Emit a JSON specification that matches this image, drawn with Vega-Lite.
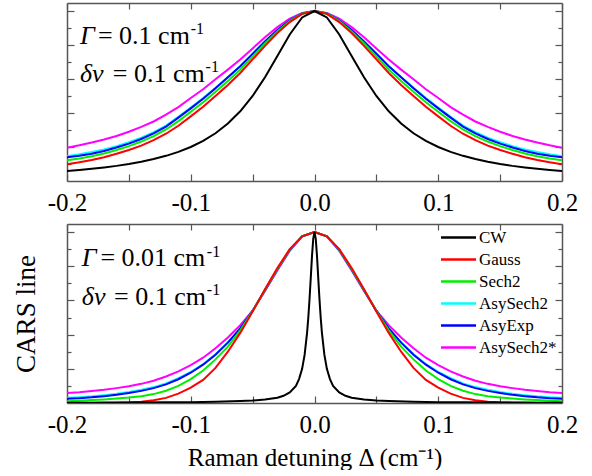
{
"$schema": "https://vega.github.io/schema/vega-lite/v6.json",
"background": "white",
"padding": {"left": 12, "top": 2, "right": 0, "bottom": 0},
"config": {"font": "'Liberation Serif', 'Times New Roman', serif", "view": {"stroke": null},
  "axis": {"domainColor": "#555", "domainWidth": 1.5, "tickColor": "#555", "tickWidth": 1.2, "grid": false, "labelColor": "black", "titleColor": "black", "labelFont": "'Liberation Serif', 'Times New Roman', serif", "titleFont": "'Liberation Serif', 'Times New Roman', serif", "titleFontWeight": "normal"},
  "legend": {"labelFont": "'Liberation Serif', 'Times New Roman', serif"},
  "text": {"font": "'Liberation Serif', 'Times New Roman', serif", "color": "black"}},
"datasets": {
"top": [
{"series":"AsySech2*","x":-0.2,"y":0.196},{"series":"AsySech2*","x":-0.19,"y":0.21},{"series":"AsySech2*","x":-0.18,"y":0.226},{"series":"AsySech2*","x":-0.17,"y":0.244},{"series":"AsySech2*","x":-0.16,"y":0.265},{"series":"AsySech2*","x":-0.15,"y":0.29},{"series":"AsySech2*","x":-0.14,"y":0.318},{"series":"AsySech2*","x":-0.13,"y":0.35},{"series":"AsySech2*","x":-0.12,"y":0.39},{"series":"AsySech2*","x":-0.11,"y":0.435},{"series":"AsySech2*","x":-0.1,"y":0.488},{"series":"AsySech2*","x":-0.09,"y":0.54},{"series":"AsySech2*","x":-0.08,"y":0.598},{"series":"AsySech2*","x":-0.07,"y":0.655},{"series":"AsySech2*","x":-0.06,"y":0.715},{"series":"AsySech2*","x":-0.05,"y":0.78},{"series":"AsySech2*","x":-0.04,"y":0.845},{"series":"AsySech2*","x":-0.03,"y":0.905},{"series":"AsySech2*","x":-0.02,"y":0.955},{"series":"AsySech2*","x":-0.01,"y":0.988},{"series":"AsySech2*","x":0,"y":1},{"series":"AsySech2*","x":0.01,"y":0.988},{"series":"AsySech2*","x":0.02,"y":0.955},{"series":"AsySech2*","x":0.03,"y":0.905},{"series":"AsySech2*","x":0.04,"y":0.845},{"series":"AsySech2*","x":0.05,"y":0.78},{"series":"AsySech2*","x":0.06,"y":0.715},{"series":"AsySech2*","x":0.07,"y":0.655},{"series":"AsySech2*","x":0.08,"y":0.598},{"series":"AsySech2*","x":0.09,"y":0.54},{"series":"AsySech2*","x":0.1,"y":0.488},{"series":"AsySech2*","x":0.11,"y":0.435},{"series":"AsySech2*","x":0.12,"y":0.39},{"series":"AsySech2*","x":0.13,"y":0.35},{"series":"AsySech2*","x":0.14,"y":0.318},{"series":"AsySech2*","x":0.15,"y":0.29},{"series":"AsySech2*","x":0.16,"y":0.265},{"series":"AsySech2*","x":0.17,"y":0.244},{"series":"AsySech2*","x":0.18,"y":0.226},{"series":"AsySech2*","x":0.19,"y":0.21},{"series":"AsySech2*","x":0.2,"y":0.196},
{"series":"AsySech2","x":-0.2,"y":0.146},{"series":"AsySech2","x":-0.19,"y":0.157},{"series":"AsySech2","x":-0.18,"y":0.17},{"series":"AsySech2","x":-0.17,"y":0.186},{"series":"AsySech2","x":-0.16,"y":0.205},{"series":"AsySech2","x":-0.15,"y":0.228},{"series":"AsySech2","x":-0.14,"y":0.255},{"series":"AsySech2","x":-0.13,"y":0.287},{"series":"AsySech2","x":-0.12,"y":0.326},{"series":"AsySech2","x":-0.11,"y":0.378},{"series":"AsySech2","x":-0.1,"y":0.432},{"series":"AsySech2","x":-0.09,"y":0.488},{"series":"AsySech2","x":-0.08,"y":0.548},{"series":"AsySech2","x":-0.07,"y":0.61},{"series":"AsySech2","x":-0.06,"y":0.675},{"series":"AsySech2","x":-0.05,"y":0.748},{"series":"AsySech2","x":-0.04,"y":0.82},{"series":"AsySech2","x":-0.03,"y":0.888},{"series":"AsySech2","x":-0.02,"y":0.945},{"series":"AsySech2","x":-0.01,"y":0.985},{"series":"AsySech2","x":0,"y":1},{"series":"AsySech2","x":0.01,"y":0.985},{"series":"AsySech2","x":0.02,"y":0.945},{"series":"AsySech2","x":0.03,"y":0.888},{"series":"AsySech2","x":0.04,"y":0.82},{"series":"AsySech2","x":0.05,"y":0.748},{"series":"AsySech2","x":0.06,"y":0.675},{"series":"AsySech2","x":0.07,"y":0.61},{"series":"AsySech2","x":0.08,"y":0.548},{"series":"AsySech2","x":0.09,"y":0.488},{"series":"AsySech2","x":0.1,"y":0.432},{"series":"AsySech2","x":0.11,"y":0.378},{"series":"AsySech2","x":0.12,"y":0.326},{"series":"AsySech2","x":0.13,"y":0.287},{"series":"AsySech2","x":0.14,"y":0.255},{"series":"AsySech2","x":0.15,"y":0.228},{"series":"AsySech2","x":0.16,"y":0.205},{"series":"AsySech2","x":0.17,"y":0.186},{"series":"AsySech2","x":0.18,"y":0.17},{"series":"AsySech2","x":0.19,"y":0.157},{"series":"AsySech2","x":0.2,"y":0.146},
{"series":"AsyExp","x":-0.2,"y":0.14},{"series":"AsyExp","x":-0.19,"y":0.148},{"series":"AsyExp","x":-0.18,"y":0.16},{"series":"AsyExp","x":-0.17,"y":0.177},{"series":"AsyExp","x":-0.16,"y":0.197},{"series":"AsyExp","x":-0.15,"y":0.22},{"series":"AsyExp","x":-0.14,"y":0.247},{"series":"AsyExp","x":-0.13,"y":0.28},{"series":"AsyExp","x":-0.12,"y":0.32},{"series":"AsyExp","x":-0.11,"y":0.373},{"series":"AsyExp","x":-0.1,"y":0.427},{"series":"AsyExp","x":-0.09,"y":0.484},{"series":"AsyExp","x":-0.08,"y":0.545},{"series":"AsyExp","x":-0.07,"y":0.61},{"series":"AsyExp","x":-0.06,"y":0.675},{"series":"AsyExp","x":-0.05,"y":0.748},{"series":"AsyExp","x":-0.04,"y":0.82},{"series":"AsyExp","x":-0.03,"y":0.888},{"series":"AsyExp","x":-0.02,"y":0.945},{"series":"AsyExp","x":-0.01,"y":0.985},{"series":"AsyExp","x":0,"y":1},{"series":"AsyExp","x":0.01,"y":0.985},{"series":"AsyExp","x":0.02,"y":0.945},{"series":"AsyExp","x":0.03,"y":0.888},{"series":"AsyExp","x":0.04,"y":0.82},{"series":"AsyExp","x":0.05,"y":0.748},{"series":"AsyExp","x":0.06,"y":0.675},{"series":"AsyExp","x":0.07,"y":0.61},{"series":"AsyExp","x":0.08,"y":0.545},{"series":"AsyExp","x":0.09,"y":0.484},{"series":"AsyExp","x":0.1,"y":0.427},{"series":"AsyExp","x":0.11,"y":0.373},{"series":"AsyExp","x":0.12,"y":0.32},{"series":"AsyExp","x":0.13,"y":0.28},{"series":"AsyExp","x":0.14,"y":0.247},{"series":"AsyExp","x":0.15,"y":0.22},{"series":"AsyExp","x":0.16,"y":0.197},{"series":"AsyExp","x":0.17,"y":0.177},{"series":"AsyExp","x":0.18,"y":0.16},{"series":"AsyExp","x":0.19,"y":0.148},{"series":"AsyExp","x":0.2,"y":0.14},
{"series":"Sech2","x":-0.2,"y":0.122},{"series":"Sech2","x":-0.19,"y":0.133},{"series":"Sech2","x":-0.18,"y":0.146},{"series":"Sech2","x":-0.17,"y":0.162},{"series":"Sech2","x":-0.16,"y":0.182},{"series":"Sech2","x":-0.15,"y":0.205},{"series":"Sech2","x":-0.14,"y":0.232},{"series":"Sech2","x":-0.13,"y":0.264},{"series":"Sech2","x":-0.12,"y":0.303},{"series":"Sech2","x":-0.11,"y":0.352},{"series":"Sech2","x":-0.1,"y":0.407},{"series":"Sech2","x":-0.09,"y":0.463},{"series":"Sech2","x":-0.08,"y":0.525},{"series":"Sech2","x":-0.07,"y":0.588},{"series":"Sech2","x":-0.06,"y":0.655},{"series":"Sech2","x":-0.05,"y":0.733},{"series":"Sech2","x":-0.04,"y":0.81},{"series":"Sech2","x":-0.03,"y":0.88},{"series":"Sech2","x":-0.02,"y":0.94},{"series":"Sech2","x":-0.01,"y":0.984},{"series":"Sech2","x":0,"y":1},{"series":"Sech2","x":0.01,"y":0.984},{"series":"Sech2","x":0.02,"y":0.94},{"series":"Sech2","x":0.03,"y":0.88},{"series":"Sech2","x":0.04,"y":0.81},{"series":"Sech2","x":0.05,"y":0.733},{"series":"Sech2","x":0.06,"y":0.655},{"series":"Sech2","x":0.07,"y":0.588},{"series":"Sech2","x":0.08,"y":0.525},{"series":"Sech2","x":0.09,"y":0.463},{"series":"Sech2","x":0.1,"y":0.407},{"series":"Sech2","x":0.11,"y":0.352},{"series":"Sech2","x":0.12,"y":0.303},{"series":"Sech2","x":0.13,"y":0.264},{"series":"Sech2","x":0.14,"y":0.232},{"series":"Sech2","x":0.15,"y":0.205},{"series":"Sech2","x":0.16,"y":0.182},{"series":"Sech2","x":0.17,"y":0.162},{"series":"Sech2","x":0.18,"y":0.146},{"series":"Sech2","x":0.19,"y":0.133},{"series":"Sech2","x":0.2,"y":0.122},
{"series":"Gauss","x":-0.2,"y":0.098},{"series":"Gauss","x":-0.19,"y":0.11},{"series":"Gauss","x":-0.18,"y":0.124},{"series":"Gauss","x":-0.17,"y":0.14},{"series":"Gauss","x":-0.16,"y":0.16},{"series":"Gauss","x":-0.15,"y":0.182},{"series":"Gauss","x":-0.14,"y":0.208},{"series":"Gauss","x":-0.13,"y":0.24},{"series":"Gauss","x":-0.12,"y":0.278},{"series":"Gauss","x":-0.11,"y":0.325},{"series":"Gauss","x":-0.1,"y":0.38},{"series":"Gauss","x":-0.09,"y":0.437},{"series":"Gauss","x":-0.08,"y":0.5},{"series":"Gauss","x":-0.07,"y":0.565},{"series":"Gauss","x":-0.06,"y":0.635},{"series":"Gauss","x":-0.05,"y":0.715},{"series":"Gauss","x":-0.04,"y":0.795},{"series":"Gauss","x":-0.03,"y":0.87},{"series":"Gauss","x":-0.02,"y":0.935},{"series":"Gauss","x":-0.01,"y":0.983},{"series":"Gauss","x":0,"y":1},{"series":"Gauss","x":0.01,"y":0.983},{"series":"Gauss","x":0.02,"y":0.935},{"series":"Gauss","x":0.03,"y":0.87},{"series":"Gauss","x":0.04,"y":0.795},{"series":"Gauss","x":0.05,"y":0.715},{"series":"Gauss","x":0.06,"y":0.635},{"series":"Gauss","x":0.07,"y":0.565},{"series":"Gauss","x":0.08,"y":0.5},{"series":"Gauss","x":0.09,"y":0.437},{"series":"Gauss","x":0.1,"y":0.38},{"series":"Gauss","x":0.11,"y":0.325},{"series":"Gauss","x":0.12,"y":0.278},{"series":"Gauss","x":0.13,"y":0.24},{"series":"Gauss","x":0.14,"y":0.208},{"series":"Gauss","x":0.15,"y":0.182},{"series":"Gauss","x":0.16,"y":0.16},{"series":"Gauss","x":0.17,"y":0.14},{"series":"Gauss","x":0.18,"y":0.124},{"series":"Gauss","x":0.19,"y":0.11},{"series":"Gauss","x":0.2,"y":0.098},
{"series":"CW","x":-0.2,"y":0.059},{"series":"CW","x":-0.19,"y":0.065},{"series":"CW","x":-0.18,"y":0.072},{"series":"CW","x":-0.17,"y":0.08},{"series":"CW","x":-0.16,"y":0.089},{"series":"CW","x":-0.15,"y":0.1},{"series":"CW","x":-0.14,"y":0.113},{"series":"CW","x":-0.13,"y":0.129},{"series":"CW","x":-0.12,"y":0.148},{"series":"CW","x":-0.11,"y":0.171},{"series":"CW","x":-0.1,"y":0.2},{"series":"CW","x":-0.09,"y":0.236},{"series":"CW","x":-0.08,"y":0.281},{"series":"CW","x":-0.07,"y":0.338},{"series":"CW","x":-0.06,"y":0.41},{"series":"CW","x":-0.05,"y":0.5},{"series":"CW","x":-0.04,"y":0.61},{"series":"CW","x":-0.03,"y":0.735},{"series":"CW","x":-0.02,"y":0.862},{"series":"CW","x":-0.01,"y":0.962},{"series":"CW","x":0,"y":1},{"series":"CW","x":0.01,"y":0.962},{"series":"CW","x":0.02,"y":0.862},{"series":"CW","x":0.03,"y":0.735},{"series":"CW","x":0.04,"y":0.61},{"series":"CW","x":0.05,"y":0.5},{"series":"CW","x":0.06,"y":0.41},{"series":"CW","x":0.07,"y":0.338},{"series":"CW","x":0.08,"y":0.281},{"series":"CW","x":0.09,"y":0.236},{"series":"CW","x":0.1,"y":0.2},{"series":"CW","x":0.11,"y":0.171},{"series":"CW","x":0.12,"y":0.148},{"series":"CW","x":0.13,"y":0.129},{"series":"CW","x":0.14,"y":0.113},{"series":"CW","x":0.15,"y":0.1},{"series":"CW","x":0.16,"y":0.089},{"series":"CW","x":0.17,"y":0.08},{"series":"CW","x":0.18,"y":0.072},{"series":"CW","x":0.19,"y":0.065},{"series":"CW","x":0.2,"y":0.059}
],
"bot": [
{"series":"AsySech2*","x":-0.2,"y":0.058},{"series":"AsySech2*","x":-0.19,"y":0.063},{"series":"AsySech2*","x":-0.18,"y":0.07},{"series":"AsySech2*","x":-0.17,"y":0.077},{"series":"AsySech2*","x":-0.16,"y":0.087},{"series":"AsySech2*","x":-0.15,"y":0.098},{"series":"AsySech2*","x":-0.14,"y":0.112},{"series":"AsySech2*","x":-0.13,"y":0.13},{"series":"AsySech2*","x":-0.12,"y":0.155},{"series":"AsySech2*","x":-0.11,"y":0.185},{"series":"AsySech2*","x":-0.1,"y":0.222},{"series":"AsySech2*","x":-0.09,"y":0.265},{"series":"AsySech2*","x":-0.08,"y":0.32},{"series":"AsySech2*","x":-0.07,"y":0.383},{"series":"AsySech2*","x":-0.06,"y":0.455},{"series":"AsySech2*","x":-0.05,"y":0.54},{"series":"AsySech2*","x":-0.04,"y":0.655},{"series":"AsySech2*","x":-0.03,"y":0.775},{"series":"AsySech2*","x":-0.02,"y":0.89},{"series":"AsySech2*","x":-0.01,"y":0.975},{"series":"AsySech2*","x":0,"y":1},{"series":"AsySech2*","x":0.01,"y":0.975},{"series":"AsySech2*","x":0.02,"y":0.89},{"series":"AsySech2*","x":0.03,"y":0.775},{"series":"AsySech2*","x":0.04,"y":0.655},{"series":"AsySech2*","x":0.05,"y":0.54},{"series":"AsySech2*","x":0.06,"y":0.455},{"series":"AsySech2*","x":0.07,"y":0.383},{"series":"AsySech2*","x":0.08,"y":0.32},{"series":"AsySech2*","x":0.09,"y":0.265},{"series":"AsySech2*","x":0.1,"y":0.222},{"series":"AsySech2*","x":0.11,"y":0.185},{"series":"AsySech2*","x":0.12,"y":0.155},{"series":"AsySech2*","x":0.13,"y":0.13},{"series":"AsySech2*","x":0.14,"y":0.112},{"series":"AsySech2*","x":0.15,"y":0.098},{"series":"AsySech2*","x":0.16,"y":0.087},{"series":"AsySech2*","x":0.17,"y":0.077},{"series":"AsySech2*","x":0.18,"y":0.07},{"series":"AsySech2*","x":0.19,"y":0.063},{"series":"AsySech2*","x":0.2,"y":0.058},
{"series":"AsySech2","x":-0.2,"y":0.03},{"series":"AsySech2","x":-0.19,"y":0.034},{"series":"AsySech2","x":-0.18,"y":0.039},{"series":"AsySech2","x":-0.17,"y":0.046},{"series":"AsySech2","x":-0.16,"y":0.054},{"series":"AsySech2","x":-0.15,"y":0.064},{"series":"AsySech2","x":-0.14,"y":0.077},{"series":"AsySech2","x":-0.13,"y":0.093},{"series":"AsySech2","x":-0.12,"y":0.115},{"series":"AsySech2","x":-0.11,"y":0.145},{"series":"AsySech2","x":-0.1,"y":0.182},{"series":"AsySech2","x":-0.09,"y":0.228},{"series":"AsySech2","x":-0.08,"y":0.285},{"series":"AsySech2","x":-0.07,"y":0.355},{"series":"AsySech2","x":-0.06,"y":0.437},{"series":"AsySech2","x":-0.05,"y":0.54},{"series":"AsySech2","x":-0.04,"y":0.66},{"series":"AsySech2","x":-0.03,"y":0.782},{"series":"AsySech2","x":-0.02,"y":0.895},{"series":"AsySech2","x":-0.01,"y":0.975},{"series":"AsySech2","x":0,"y":1},{"series":"AsySech2","x":0.01,"y":0.975},{"series":"AsySech2","x":0.02,"y":0.895},{"series":"AsySech2","x":0.03,"y":0.782},{"series":"AsySech2","x":0.04,"y":0.66},{"series":"AsySech2","x":0.05,"y":0.54},{"series":"AsySech2","x":0.06,"y":0.437},{"series":"AsySech2","x":0.07,"y":0.355},{"series":"AsySech2","x":0.08,"y":0.285},{"series":"AsySech2","x":0.09,"y":0.228},{"series":"AsySech2","x":0.1,"y":0.182},{"series":"AsySech2","x":0.11,"y":0.145},{"series":"AsySech2","x":0.12,"y":0.115},{"series":"AsySech2","x":0.13,"y":0.093},{"series":"AsySech2","x":0.14,"y":0.077},{"series":"AsySech2","x":0.15,"y":0.064},{"series":"AsySech2","x":0.16,"y":0.054},{"series":"AsySech2","x":0.17,"y":0.046},{"series":"AsySech2","x":0.18,"y":0.039},{"series":"AsySech2","x":0.19,"y":0.034},{"series":"AsySech2","x":0.2,"y":0.03},
{"series":"AsyExp","x":-0.2,"y":0.025},{"series":"AsyExp","x":-0.19,"y":0.028},{"series":"AsyExp","x":-0.18,"y":0.033},{"series":"AsyExp","x":-0.17,"y":0.04},{"series":"AsyExp","x":-0.16,"y":0.048},{"series":"AsyExp","x":-0.15,"y":0.058},{"series":"AsyExp","x":-0.14,"y":0.071},{"series":"AsyExp","x":-0.13,"y":0.087},{"series":"AsyExp","x":-0.12,"y":0.109},{"series":"AsyExp","x":-0.11,"y":0.139},{"series":"AsyExp","x":-0.1,"y":0.177},{"series":"AsyExp","x":-0.09,"y":0.224},{"series":"AsyExp","x":-0.08,"y":0.282},{"series":"AsyExp","x":-0.07,"y":0.353},{"series":"AsyExp","x":-0.06,"y":0.437},{"series":"AsyExp","x":-0.05,"y":0.54},{"series":"AsyExp","x":-0.04,"y":0.66},{"series":"AsyExp","x":-0.03,"y":0.782},{"series":"AsyExp","x":-0.02,"y":0.895},{"series":"AsyExp","x":-0.01,"y":0.975},{"series":"AsyExp","x":0,"y":1},{"series":"AsyExp","x":0.01,"y":0.975},{"series":"AsyExp","x":0.02,"y":0.895},{"series":"AsyExp","x":0.03,"y":0.782},{"series":"AsyExp","x":0.04,"y":0.66},{"series":"AsyExp","x":0.05,"y":0.54},{"series":"AsyExp","x":0.06,"y":0.437},{"series":"AsyExp","x":0.07,"y":0.353},{"series":"AsyExp","x":0.08,"y":0.282},{"series":"AsyExp","x":0.09,"y":0.224},{"series":"AsyExp","x":0.1,"y":0.177},{"series":"AsyExp","x":0.11,"y":0.139},{"series":"AsyExp","x":0.12,"y":0.109},{"series":"AsyExp","x":0.13,"y":0.087},{"series":"AsyExp","x":0.14,"y":0.071},{"series":"AsyExp","x":0.15,"y":0.058},{"series":"AsyExp","x":0.16,"y":0.048},{"series":"AsyExp","x":0.17,"y":0.04},{"series":"AsyExp","x":0.18,"y":0.033},{"series":"AsyExp","x":0.19,"y":0.028},{"series":"AsyExp","x":0.2,"y":0.025},
{"series":"Sech2","x":-0.2,"y":0.01},{"series":"Sech2","x":-0.19,"y":0.013},{"series":"Sech2","x":-0.18,"y":0.017},{"series":"Sech2","x":-0.17,"y":0.021},{"series":"Sech2","x":-0.16,"y":0.026},{"series":"Sech2","x":-0.15,"y":0.032},{"series":"Sech2","x":-0.14,"y":0.04},{"series":"Sech2","x":-0.13,"y":0.052},{"series":"Sech2","x":-0.12,"y":0.072},{"series":"Sech2","x":-0.11,"y":0.1},{"series":"Sech2","x":-0.1,"y":0.14},{"series":"Sech2","x":-0.09,"y":0.19},{"series":"Sech2","x":-0.08,"y":0.255},{"series":"Sech2","x":-0.07,"y":0.33},{"series":"Sech2","x":-0.06,"y":0.425},{"series":"Sech2","x":-0.05,"y":0.538},{"series":"Sech2","x":-0.04,"y":0.662},{"series":"Sech2","x":-0.03,"y":0.785},{"series":"Sech2","x":-0.02,"y":0.897},{"series":"Sech2","x":-0.01,"y":0.975},{"series":"Sech2","x":0,"y":1},{"series":"Sech2","x":0.01,"y":0.975},{"series":"Sech2","x":0.02,"y":0.897},{"series":"Sech2","x":0.03,"y":0.785},{"series":"Sech2","x":0.04,"y":0.662},{"series":"Sech2","x":0.05,"y":0.538},{"series":"Sech2","x":0.06,"y":0.425},{"series":"Sech2","x":0.07,"y":0.33},{"series":"Sech2","x":0.08,"y":0.255},{"series":"Sech2","x":0.09,"y":0.19},{"series":"Sech2","x":0.1,"y":0.14},{"series":"Sech2","x":0.11,"y":0.1},{"series":"Sech2","x":0.12,"y":0.072},{"series":"Sech2","x":0.13,"y":0.052},{"series":"Sech2","x":0.14,"y":0.04},{"series":"Sech2","x":0.15,"y":0.032},{"series":"Sech2","x":0.16,"y":0.026},{"series":"Sech2","x":0.17,"y":0.021},{"series":"Sech2","x":0.18,"y":0.017},{"series":"Sech2","x":0.19,"y":0.013},{"series":"Sech2","x":0.2,"y":0.01},
{"series":"Gauss","x":-0.2,"y":0.0001},{"series":"Gauss","x":-0.19,"y":0.0002},{"series":"Gauss","x":-0.18,"y":0.0005},{"series":"Gauss","x":-0.17,"y":0.001},{"series":"Gauss","x":-0.16,"y":0.002},{"series":"Gauss","x":-0.15,"y":0.004},{"series":"Gauss","x":-0.14,"y":0.008},{"series":"Gauss","x":-0.13,"y":0.016},{"series":"Gauss","x":-0.12,"y":0.03},{"series":"Gauss","x":-0.11,"y":0.055},{"series":"Gauss","x":-0.1,"y":0.09},{"series":"Gauss","x":-0.09,"y":0.135},{"series":"Gauss","x":-0.08,"y":0.205},{"series":"Gauss","x":-0.07,"y":0.3},{"series":"Gauss","x":-0.06,"y":0.41},{"series":"Gauss","x":-0.05,"y":0.535},{"series":"Gauss","x":-0.04,"y":0.665},{"series":"Gauss","x":-0.03,"y":0.79},{"series":"Gauss","x":-0.02,"y":0.9},{"series":"Gauss","x":-0.01,"y":0.975},{"series":"Gauss","x":0,"y":1},{"series":"Gauss","x":0.01,"y":0.975},{"series":"Gauss","x":0.02,"y":0.9},{"series":"Gauss","x":0.03,"y":0.79},{"series":"Gauss","x":0.04,"y":0.665},{"series":"Gauss","x":0.05,"y":0.535},{"series":"Gauss","x":0.06,"y":0.41},{"series":"Gauss","x":0.07,"y":0.3},{"series":"Gauss","x":0.08,"y":0.205},{"series":"Gauss","x":0.09,"y":0.135},{"series":"Gauss","x":0.1,"y":0.09},{"series":"Gauss","x":0.11,"y":0.055},{"series":"Gauss","x":0.12,"y":0.03},{"series":"Gauss","x":0.13,"y":0.016},{"series":"Gauss","x":0.14,"y":0.008},{"series":"Gauss","x":0.15,"y":0.004},{"series":"Gauss","x":0.16,"y":0.002},{"series":"Gauss","x":0.17,"y":0.001},{"series":"Gauss","x":0.18,"y":0.0005},{"series":"Gauss","x":0.19,"y":0.0002},{"series":"Gauss","x":0.2,"y":0.0001},
{"series":"CW","x":-0.2,"y":0.002},{"series":"CW","x":-0.15,"y":0.003},{"series":"CW","x":-0.12,"y":0.004},{"series":"CW","x":-0.1,"y":0.005},{"series":"CW","x":-0.08,"y":0.007},{"series":"CW","x":-0.06,"y":0.011},{"series":"CW","x":-0.05,"y":0.014},{"series":"CW","x":-0.04,"y":0.02},{"series":"CW","x":-0.03,"y":0.031},{"series":"CW","x":-0.025,"y":0.042},{"series":"CW","x":-0.02,"y":0.062},{"series":"CW","x":-0.015,"y":0.1},{"series":"CW","x":-0.0125,"y":0.14},{"series":"CW","x":-0.01,"y":0.2},{"series":"CW","x":-0.008,"y":0.281},{"series":"CW","x":-0.006,"y":0.41},{"series":"CW","x":-0.005,"y":0.5},{"series":"CW","x":-0.004,"y":0.61},{"series":"CW","x":-0.003,"y":0.735},{"series":"CW","x":-0.002,"y":0.862},{"series":"CW","x":-0.001,"y":0.962},{"series":"CW","x":0,"y":1},{"series":"CW","x":0.001,"y":0.962},{"series":"CW","x":0.002,"y":0.862},{"series":"CW","x":0.003,"y":0.735},{"series":"CW","x":0.004,"y":0.61},{"series":"CW","x":0.005,"y":0.5},{"series":"CW","x":0.006,"y":0.41},{"series":"CW","x":0.008,"y":0.281},{"series":"CW","x":0.01,"y":0.2},{"series":"CW","x":0.0125,"y":0.14},{"series":"CW","x":0.015,"y":0.1},{"series":"CW","x":0.02,"y":0.062},{"series":"CW","x":0.025,"y":0.042},{"series":"CW","x":0.03,"y":0.031},{"series":"CW","x":0.04,"y":0.02},{"series":"CW","x":0.05,"y":0.014},{"series":"CW","x":0.06,"y":0.011},{"series":"CW","x":0.08,"y":0.007},{"series":"CW","x":0.1,"y":0.005},{"series":"CW","x":0.12,"y":0.004},{"series":"CW","x":0.15,"y":0.003},{"series":"CW","x":0.2,"y":0.002}
]
},
"spacing": 43,
"bounds": "flush",
"resolve": {"scale": {"color": "independent"}, "legend": {"color": "independent"}},
"vconcat": [
{
 "width": 495, "height": 178,
 "resolve": {"axis": {"x": "independent", "y": "independent"}},
 "layer": [
  {"data": {"name": "top"}, "mark": {"type": "line", "strokeWidth": 2, "clip": true},
   "encoding": {
    "x": {"field": "x", "type": "quantitative", "scale": {"domain": [-0.2, 0.2], "nice": false, "zero": false},
      "axis": {"orient": "bottom", "title": null, "values": [-0.2,-0.15,-0.1,-0.05,0,0.05,0.1,0.15,0.2], "tickSize": -7, "labelPadding": 16, "labelFontSize": 25, "labelOverlap": false, "labelFlush": false, "labelBound": false,
        "labelExpr": "abs(round(datum.value*20)) % 2 == 1 ? '' : (datum.value < -0.001 ? '-' : '') + format(abs(datum.value), '.1f')"}},
    "y": {"field": "y", "type": "quantitative", "scale": {"domain": [0, 1.047], "nice": false, "zero": false},
      "axis": {"orient": "left", "title": null, "values": [0.2,0.4,0.6,0.8,1.0], "tickSize": -7, "labels": false}},
    "color": {"field": "series", "type": "nominal", "scale": {"domain": ["CW","Gauss","Sech2","AsySech2","AsyExp","AsySech2*"], "range": ["#000000","#ff0000","#00ee00","#00ffff","#0000ff","#ff00ff"]}, "legend": null}
   }},
  {"data": {"values": [{}]}, "mark": {"type": "point", "opacity": 0},
   "encoding": {
    "x": {"datum": 0, "type": "quantitative", "axis": {"orient": "top", "title": null, "values": [-0.2,-0.15,-0.1,-0.05,0,0.05,0.1,0.15,0.2], "tickSize": -6, "labels": false}},
    "y": {"datum": 0.5, "type": "quantitative", "axis": {"orient": "left", "title": null, "values": [0.1,0.3,0.5,0.7,0.9], "tickSize": -4, "labels": false, "domain": false}}
   }},
  {"data": {"values": [{}]}, "mark": {"type": "point", "opacity": 0},
   "encoding": {
    "x": {"datum": 0, "type": "quantitative", "axis": null},
    "y": {"datum": 0.5, "type": "quantitative", "axis": {"orient": "right", "title": null, "values": [0.2,0.4,0.6,0.8,1.0], "tickSize": -7, "labels": false}}
   }},
  {"data": {"values": [{}]}, "mark": {"type": "point", "opacity": 0},
   "encoding": {
    "x": {"datum": 0, "type": "quantitative", "axis": null},
    "y": {"datum": 0.5, "type": "quantitative", "axis": {"orient": "right", "title": null, "values": [0.1,0.3,0.5,0.7,0.9], "tickSize": -4, "labels": false, "domain": false}}
   }},
  {"data": {"values": [{}]}, "mark": {"type": "text", "fontSize": 26, "fontStyle": "italic", "align": "left", "baseline": "alphabetic"},
   "encoding": {"x": {"datum": -0.1895, "type": "quantitative", "axis": null}, "y": {"datum": 0.806, "type": "quantitative", "axis": null}, "text": {"value": "Γ"}}},
  {"data": {"values": [{}]}, "mark": {"type": "text", "fontSize": 26, "align": "left", "baseline": "alphabetic"},
   "encoding": {"x": {"datum": -0.175, "type": "quantitative", "axis": null}, "y": {"datum": 0.806, "type": "quantitative", "axis": null}, "text": {"value": "= 0.1 cm"}}},
  {"data": {"values": [{}]}, "mark": {"type": "text", "fontSize": 16, "align": "left", "baseline": "alphabetic"},
   "encoding": {"x": {"datum": -0.1, "type": "quantitative", "axis": null}, "y": {"datum": 0.865, "type": "quantitative", "axis": null}, "text": {"value": "-1"}}},
  {"data": {"values": [{}]}, "mark": {"type": "text", "fontSize": 26, "fontStyle": "italic", "align": "left", "baseline": "alphabetic"},
   "encoding": {"x": {"datum": -0.1895, "type": "quantitative", "axis": null}, "y": {"datum": 0.582, "type": "quantitative", "axis": null}, "text": {"value": "δν"}}},
  {"data": {"values": [{}]}, "mark": {"type": "text", "fontSize": 26, "align": "left", "baseline": "alphabetic"},
   "encoding": {"x": {"datum": -0.163, "type": "quantitative", "axis": null}, "y": {"datum": 0.582, "type": "quantitative", "axis": null}, "text": {"value": "= 0.1 cm"}}},
  {"data": {"values": [{}]}, "mark": {"type": "text", "fontSize": 16, "align": "left", "baseline": "alphabetic"},
   "encoding": {"x": {"datum": -0.088, "type": "quantitative", "axis": null}, "y": {"datum": 0.641, "type": "quantitative", "axis": null}, "text": {"value": "-1"}}}
 ]
},
{
 "width": 495, "height": 179,
 "resolve": {"axis": {"x": "independent", "y": "independent"}},
 "layer": [
  {"data": {"name": "bot"}, "mark": {"type": "line", "strokeWidth": 2, "clip": true},
   "encoding": {
    "x": {"field": "x", "type": "quantitative", "scale": {"domain": [-0.2, 0.2], "nice": false, "zero": false},
      "axis": {"orient": "bottom", "title": "Raman detuning Δ (cm⁻¹)", "titleFontSize": 25, "titlePadding": 8, "values": [-0.2,-0.15,-0.1,-0.05,0,0.05,0.1,0.15,0.2], "tickSize": -7, "labelPadding": 16, "labelFontSize": 25, "labelOverlap": false, "labelFlush": false, "labelBound": false,
        "labelExpr": "abs(round(datum.value*20)) % 2 == 1 ? '' : (datum.value < -0.001 ? '-' : '') + format(abs(datum.value), '.1f')"}},
    "y": {"field": "y", "type": "quantitative", "scale": {"domain": [0, 1.047], "nice": false, "zero": false},
      "axis": {"orient": "left", "title": "CARS line", "titleFontSize": 27, "titlePadding": 26, "values": [0.2,0.4,0.6,0.8,1.0], "tickSize": -7, "labels": false}},
    "color": {"field": "series", "type": "nominal", "scale": {"domain": ["CW","Gauss","Sech2","AsySech2","AsyExp","AsySech2*"], "range": ["#000000","#ff0000","#00ee00","#00ffff","#0000ff","#ff00ff"]},
      "legend": {"orient": "top-right", "title": null, "offset": 5, "symbolType": "M-3.5,0H3.5", "symbolSize": 100, "symbolStrokeWidth": 2.5, "labelFontSize": 17, "labelColor": "black", "rowPadding": 4, "labelOffset": 12}}
   }},
  {"data": {"values": [{}]}, "mark": {"type": "point", "opacity": 0},
   "encoding": {
    "x": {"datum": 0, "type": "quantitative", "axis": {"orient": "top", "title": null, "values": [-0.2,-0.15,-0.1,-0.05,0,0.05,0.1,0.15,0.2], "tickSize": -6, "labels": false}},
    "y": {"datum": 0.5, "type": "quantitative", "axis": {"orient": "left", "title": null, "values": [0.1,0.3,0.5,0.7,0.9], "tickSize": -4, "labels": false, "domain": false}}
   }},
  {"data": {"values": [{}]}, "mark": {"type": "point", "opacity": 0},
   "encoding": {
    "x": {"datum": 0, "type": "quantitative", "axis": null},
    "y": {"datum": 0.5, "type": "quantitative", "axis": {"orient": "right", "title": null, "values": [0.2,0.4,0.6,0.8,1.0], "tickSize": -7, "labels": false}}
   }},
  {"data": {"values": [{}]}, "mark": {"type": "point", "opacity": 0},
   "encoding": {
    "x": {"datum": 0, "type": "quantitative", "axis": null},
    "y": {"datum": 0.5, "type": "quantitative", "axis": {"orient": "right", "title": null, "values": [0.1,0.3,0.5,0.7,0.9], "tickSize": -4, "labels": false, "domain": false}}
   }},
  {"data": {"values": [{}]}, "mark": {"type": "text", "fontSize": 26, "fontStyle": "italic", "align": "left", "baseline": "alphabetic"},
   "encoding": {"x": {"datum": -0.188, "type": "quantitative", "axis": null}, "y": {"datum": 0.8, "type": "quantitative", "axis": null}, "text": {"value": "Γ"}}},
  {"data": {"values": [{}]}, "mark": {"type": "text", "fontSize": 26, "align": "left", "baseline": "alphabetic"},
   "encoding": {"x": {"datum": -0.173, "type": "quantitative", "axis": null}, "y": {"datum": 0.8, "type": "quantitative", "axis": null}, "text": {"value": "= 0.01 cm"}}},
  {"data": {"values": [{}]}, "mark": {"type": "text", "fontSize": 16, "align": "left", "baseline": "alphabetic"},
   "encoding": {"x": {"datum": -0.087, "type": "quantitative", "axis": null}, "y": {"datum": 0.853, "type": "quantitative", "axis": null}, "text": {"value": "-1"}}},
  {"data": {"values": [{}]}, "mark": {"type": "text", "fontSize": 26, "fontStyle": "italic", "align": "left", "baseline": "alphabetic"},
   "encoding": {"x": {"datum": -0.188, "type": "quantitative", "axis": null}, "y": {"datum": 0.576, "type": "quantitative", "axis": null}, "text": {"value": "δν"}}},
  {"data": {"values": [{}]}, "mark": {"type": "text", "fontSize": 26, "align": "left", "baseline": "alphabetic"},
   "encoding": {"x": {"datum": -0.162, "type": "quantitative", "axis": null}, "y": {"datum": 0.576, "type": "quantitative", "axis": null}, "text": {"value": "= 0.1 cm"}}},
  {"data": {"values": [{}]}, "mark": {"type": "text", "fontSize": 16, "align": "left", "baseline": "alphabetic"},
   "encoding": {"x": {"datum": -0.087, "type": "quantitative", "axis": null}, "y": {"datum": 0.63, "type": "quantitative", "axis": null}, "text": {"value": "-1"}}}
 ]
}
]
}
